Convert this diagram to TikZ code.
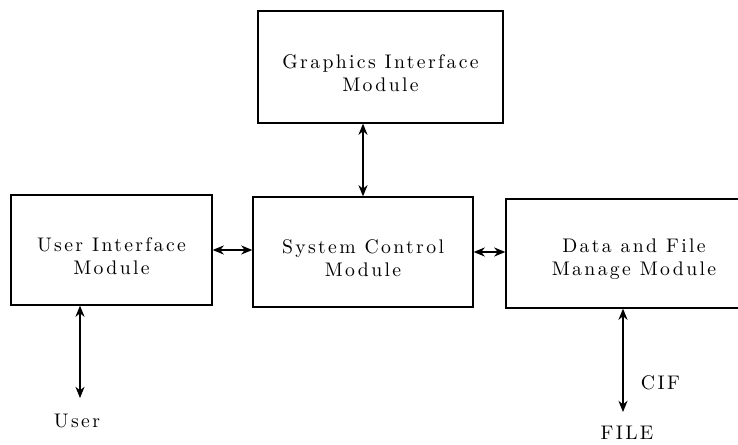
\documentclass[tikz,border=0pt]{standalone}
\usepackage{fontspec}
\setmainfont{lmroman10-regular.otf}[LetterSpace=12]
\usepackage{tikz}
\usetikzlibrary{arrows.meta, positioning, calc}
\newcommand{\modstrut}{\rule{0pt}{18pt}}

\begin{document}
\begin{tikzpicture}[x=0.025cm, y=-0.025cm,
    txt/.style={font=\fontsize{14}{16.4}\selectfont},
    modbox/.style={draw, line width=0.9pt, txt, align=center, inner sep=0pt},
    link/.style={{Stealth[length=8pt,width=6.5pt]}-{Stealth[length=8pt,width=6.5pt]}, line width=0.9pt}]
				  \useasboundingbox (0,0) rectangle (738,445);
				  \node[modbox, minimum width=6.125cm, minimum height=2.8cm] (gim) at (380.5,67) {\modstrut Graphics Interface\\Module};
				  \node[modbox, minimum width=5.025cm, minimum height=2.75cm] (uim) at (111.5,250) {\modstrut User Interface\\Module};
				  \node[modbox, minimum width=5.5cm, minimum height=2.75cm] (scm) at (363,252) {\modstrut System Control\\Module};
				  \node[modbox, minimum width=6.4cm, minimum height=2.725cm] (dfm) at (634,253.5) {\modstrut Data and File\\Manage Module};
				  \coordinate (uend) at (80,398);
				  \coordinate (fend) at (623,412);
				  \node[txt] (usr) at (77,421) {User};
				  \node[txt, anchor=west] (cif) at (636,383) {CIF};
				  \node[txt] (file) at (627,433) {FILE};
				  \draw[link] (gim.south -| scm.north) -- (scm.north);
				  \draw[link] (uim.east) -- (uim.east -| scm.west);
				  \draw[link] (scm.east) -- (scm.east -| dfm.west);
				  \draw[link] (uend |- uim.south) -- (uend);
				  \draw[link] (fend |- dfm.south) -- (fend);
				\end{tikzpicture}
\end{document}
